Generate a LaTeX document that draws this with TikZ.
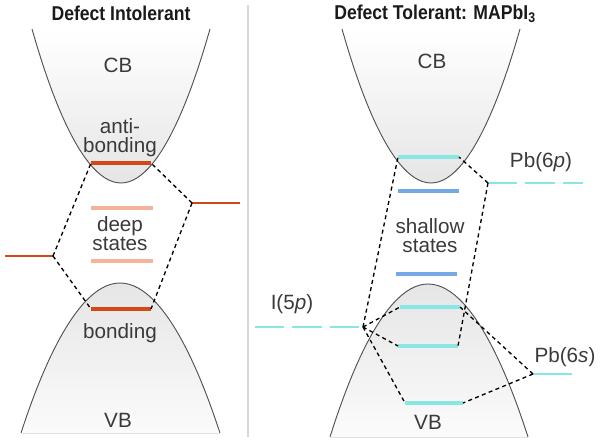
\documentclass[tikz,border=0pt]{standalone}
\usepackage{fontspec}
\setmainfont{Liberation Sans}
\usepackage{graphicx}
\definecolor{txt}{HTML}{3A3A3A}
\definecolor{ttlc}{HTML}{1A1A1A}
\definecolor{bandline}{HTML}{555555}
\definecolor{redlv}{HTML}{D44818}
\definecolor{salmon}{HTML}{F3B49A}
\definecolor{cyanlv}{HTML}{8AE6E2}
\definecolor{bluelv}{HTML}{74A9E6}
\definecolor{divc}{HTML}{D8D8D8}
\begin{document}
\begin{tikzpicture}[x=0.75pt,y=-0.75pt,
  fillcb/.style={top color=white, bottom color=gray!20},
  fillvb/.style={top color=gray!20, bottom color=gray!3},
  bandedge/.style={draw=bandline, line width=0.7pt},
  lbl/.style={text=txt, font=\fontsize{15.5}{18}\selectfont, anchor=base, inner sep=0pt},
  ttl/.style={text=ttlc, font=\fontsize{15}{18}\selectfont\bfseries, inner sep=0pt},
  thicklv/.style={line width=3pt},
  thinlv/.style={line width=1.5pt},
  dashlv/.style={line width=1.5pt, dash pattern=on 22pt off 6pt},
  connline/.style={black, line width=1pt, dash pattern=on 3pt off 2.5pt}]
\useasboundingbox (0,0) rectangle (601,443);

% divider
\draw[divc, line width=1pt] (248,5) -- (248,437);

% titles
\node[ttl] (t1) at (121,13) {\scalebox{0.88}[1]{Defect Intolerant}};
\node[ttl] (t2) at (435,14) {\scalebox{0.88}[1]{Defect Tolerant: MAPbI\textsubscript{3}}};

% bands left
\fill[fillcb] (32,29) parabola bend (121,183) (210,29) -- cycle;
\draw[bandedge] (32,29) parabola bend (121,183) (210,29);
\fill[fillvb] (21,433) parabola bend (120,283) (220,433) -- cycle;
\draw[bandedge] (21,433) parabola bend (120,283) (220,433);
% bands right
\fill[fillcb] (342,29) parabola bend (431,183) (520,29) -- cycle;
\draw[bandedge] (342,29) parabola bend (431,183) (520,29);
\fill[fillvb] (330,437) parabola bend (428,284) (528,437) -- cycle;
\draw[bandedge] (330,437) parabola bend (428,284) (528,437);

% labels left
\node[lbl] (cbL) at (118,72) {CB};
\node[lbl] (anti) at (120,133) {anti-};
\node[lbl] (bond1) at (120,152) {bonding};
\node[lbl] (deep) at (120,231) {deep};
\node[lbl] (st1) at (120,250) {states};
\node[lbl] (bond2) at (120,338) {bonding};
\node[lbl] (vbL) at (118,427) {VB};
% labels right
\node[lbl] (cbR) at (432,68) {CB};
\node[lbl] (shal) at (430,233) {shallow};
\node[lbl] (st2) at (430,252) {states};
\node[lbl] (vbR) at (428,429) {VB};
\node[lbl] (p6p) at (541,167) {Pb(6\textit{p})};
\node[lbl] (i5p) at (292,309) {I(5\textit{p})};
\node[lbl] (p6s) at (565,362) {Pb(6\textit{s})};

% level coordinates left
\coordinate (abL) at (91,163);  \coordinate (abR) at (151,163);
\coordinate (boL) at (91,309);  \coordinate (boR) at (151,309);
\coordinate (d1L) at (91,208);  \coordinate (d1R) at (153,208);
\coordinate (d2L) at (91,261);  \coordinate (d2R) at (153,261);
\coordinate (aLa) at (5,256);   \coordinate (aLb) at (53,256);
\coordinate (aRa) at (192,203); \coordinate (aRb) at (240,203);
% level coordinates right
\coordinate (ccL) at (398,157); \coordinate (ccR) at (459,157);
\coordinate (b1L) at (398,191); \coordinate (b1R) at (459,191);
\coordinate (b2L) at (396,274); \coordinate (b2R) at (457,274);
\coordinate (v1L) at (400,307); \coordinate (v1R) at (460,307);
\coordinate (v2L) at (398,346); \coordinate (v2R) at (458,346);
\coordinate (v3L) at (405,403); \coordinate (v3R) at (463,403);
\coordinate (iA) at (255,327);  \coordinate (iB) at (363,327);
\coordinate (pA) at (488,183);  \coordinate (pB) at (583,183);
\coordinate (sA) at (533,374);  \coordinate (sB) at (572,374);

% levels left
\draw[redlv, thicklv] (abL) -- (abR);
\draw[redlv, thicklv] (boL) -- (boR);
\draw[salmon, thicklv] (d1L) -- (d1R);
\draw[salmon, thicklv] (d2L) -- (d2R);
\draw[redlv, thinlv] (aLa) -- (aLb);
\draw[redlv, thinlv] (aRa) -- (aRb);
% levels right
\draw[cyanlv, thicklv] (ccL) -- (ccR);
\draw[bluelv, thicklv] (b1L) -- (b1R);
\draw[bluelv, thicklv] (b2L) -- (b2R);
\draw[cyanlv, thicklv] (v1L) -- (v1R);
\draw[cyanlv, thicklv] (v2L) -- (v2R);
\draw[cyanlv, thicklv] (v3L) -- (v3R);
\draw[cyanlv, dashlv] (iA) -- (iB);
\draw[cyanlv, dashlv] (pA) -- (pB);
\draw[cyanlv, thinlv] (sA) -- (sB);

% connectors left
\draw[connline] (aLb) -- (abL);
\draw[connline] (aLb) -- (boL);
\draw[connline] (aRa) -- (abR);
\draw[connline] (aRa) -- (boR);
% connectors right
\draw[connline] (iB) -- (ccL);
\draw[connline] (iB) -- (v1L);
\draw[connline] (iB) -- (v2L);
\draw[connline] (iB) -- (v3L);
\draw[connline] (pA) -- (ccR);
\draw[connline] (pA) -- (v2R);
\draw[connline] (sA) -- (v1R);
\draw[connline] (sA) -- (v3R);
\end{tikzpicture}
\end{document}
